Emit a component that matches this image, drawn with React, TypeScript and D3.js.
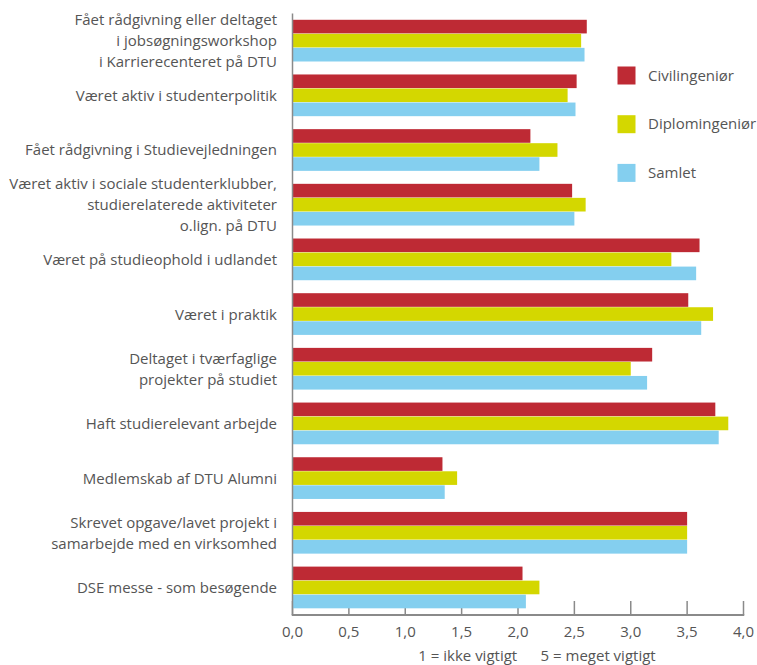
import React from "react";
import * as d3 from "d3";

// Survey: how important were these activities (1 = not important, 5 = very important)
const categories: string[][] = [
  ["Fået rådgivning eller deltaget", "i jobsøgningsworkshop", "i Karrierecenteret på DTU"],
  ["Været aktiv i studenterpolitik"],
  ["Fået rådgivning i Studievejledningen"],
  ["Været aktiv i sociale studenterklubber,", "studierelaterede aktiviteter", "o.lign. på DTU"],
  ["Været på studieophold i udlandet"],
  ["Været i praktik"],
  ["Deltaget i tværfaglige", "projekter på studiet"],
  ["Haft studierelevant arbejde"],
  ["Medlemskab af DTU Alumni"],
  ["Skrevet opgave/lavet projekt i", "samarbejde med en virksomhed"],
  ["DSE messe - som besøgende"],
];

const seriesNames = ["Civilingeniør", "Diplomingeniør", "Samlet"];
const seriesColors = ["#BE2A34", "#D4D700", "#84CFEF"];

const civilingenior = [2.61, 2.52, 2.11, 2.48, 3.61, 3.51, 3.19, 3.75, 1.33, 3.5, 2.04];
const diplomingenior = [2.56, 2.44, 2.35, 2.6, 3.36, 3.73, 3.0, 3.865, 1.46, 3.5, 2.19];
const samlet = [2.59, 2.51, 2.19, 2.5, 3.58, 3.625, 3.145, 3.78, 1.35, 3.5, 2.07];
const seriesValues = [civilingenior, diplomingenior, samlet];

const xTicks = [0, 0.5, 1, 1.5, 2, 2.5, 3, 3.5, 4];
const axisTitle = ["1 = ikke vigtigt", "5 = meget vigtigt"];

const W = 757;
const H = 665;
const left = 292.5;
const right = 743.5;
const top = 13.5;
const bottom = 615;
const FONT = "'Open Sans', sans-serif";
const TEXT = "#555555";
const AXIS = "#8a8a8a";
const FS = 15;

export default function App() {
  const x = d3.scaleLinear().domain([0, 4]).range([left, right]);
  const y = d3
    .scaleBand<number>()
    .domain(d3.range(categories.length))
    .range([top, bottom])
    .paddingInner(0.23)
    .paddingOuter(0.115);
  const sub = d3.scaleBand<number>().domain([0, 1, 2]).range([0, y.bandwidth()]);
  const fmt = (v: number) => d3.format(".1f")(v).replace(".", ",");
  const lineH = 21;

  return (
    <svg
      width={W}
      height={H}
      style={{ position: "absolute", left: 0, top: 0, background: "#fff" }}
      fontFamily={FONT}
    >
      {/* x ticks */}
      {xTicks.map((t) => (
        <line key={"t" + t} x1={x(t)} x2={x(t)} y1={601} y2={bottom} stroke={AXIS} strokeWidth={1.5} />
      ))}

      {/* bars */}
      {categories.map((_, i) =>
        seriesValues.map((vals, s) => (
          <rect
            key={`b${i}-${s}`}
            x={x(0)}
            y={(y(i) as number) + (sub(s) as number)}
            width={x(vals[i]) - x(0)}
            height={sub.bandwidth() - 0.4}
            fill={seriesColors[s]}
          />
        ))
      )}

      {/* axes */}
      <line x1={left} x2={left} y1={top} y2={bottom} stroke={AXIS} strokeWidth={1.5} />
      <line x1={left - 0.75} x2={right + 0.75} y1={bottom} y2={bottom} stroke={AXIS} strokeWidth={2} />

      {/* tick labels */}
      {xTicks.map((t) => (
        <text key={"l" + t} x={x(t)} y={637} textAnchor="middle" fontSize={FS} fill={TEXT}>
          {fmt(t)}
        </text>
      ))}

      {/* axis title */}
      <text x={537} y={661} textAnchor="middle" fontSize={FS} fill={TEXT} xmlSpace="preserve">
        {axisTitle.join("      ")}
      </text>

      {/* category labels */}
      {categories.map((lines, i) => {
        const cy = (y(i) as number) + y.bandwidth() / 2;
        const start = cy - ((lines.length - 1) * lineH) / 2;
        return (
          <text key={"c" + i} x={277} textAnchor="end" fontSize={FS} fill={TEXT}>
            {lines.map((ln, k) => (
              <tspan key={k} x={277} y={start + k * lineH} dy="0.35em">
                {ln}
              </tspan>
            ))}
          </text>
        );
      })}

      {/* legend */}
      {seriesNames.map((name, s) => (
        <g key={name} transform={`translate(617.5, ${66.5 + s * 48.7})`}>
          <rect width={18} height={18} fill={seriesColors[s]} />
          <text x={30.5} y={9} dy="0.35em" fontSize={FS} fill={TEXT}>
            {name}
          </text>
        </g>
      ))}
    </svg>
  );
}
